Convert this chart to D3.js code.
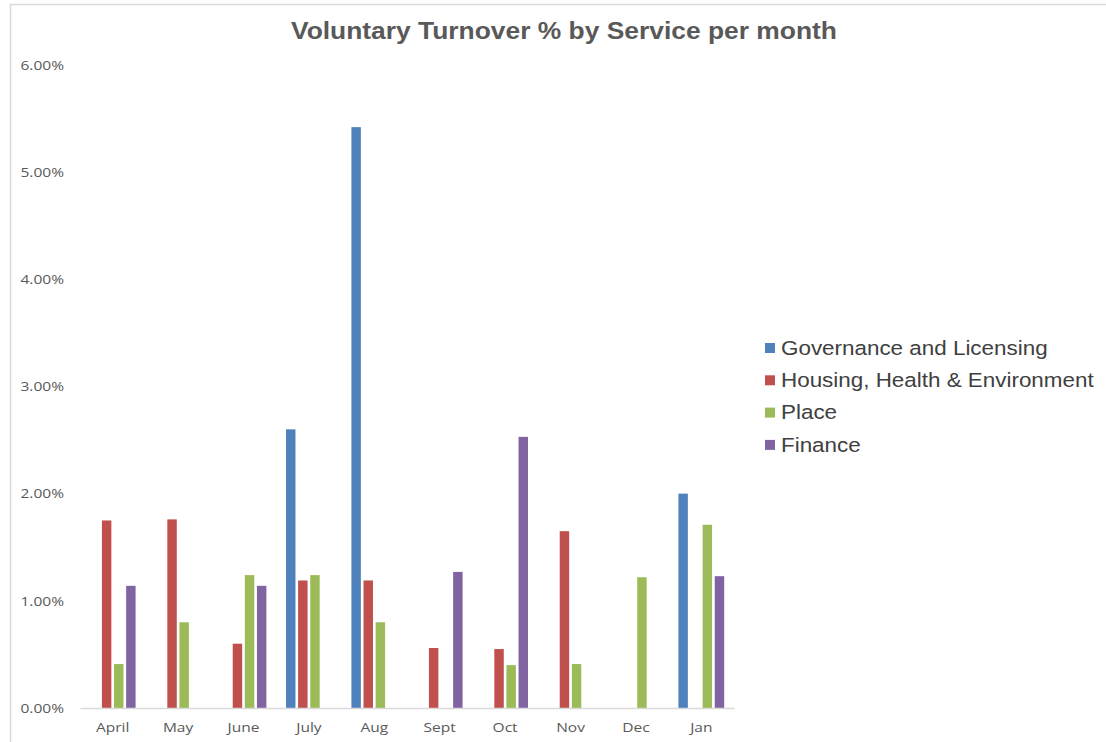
<!DOCTYPE html>
<html>
<head>
  <meta charset="utf-8">
  <title>Voluntary Turnover % by Service per month</title>
  <script src="https://d3js.org/d3.v7.min.js"></script>
  <style>
    body { margin: 0; background: #fff; }
    svg { display: block; }
  </style>
</head>
<body>
<div id="chart"></div>
<script>
  // chart data (percent values)
  var months = ["April", "May", "June", "July", "Aug", "Sept", "Oct", "Nov", "Dec", "Jan"];
  var services = ["Governance and Licensing", "Housing, Health & Environment", "Place", "Finance"];
  var governance = [0, 0, 0, 2.60, 5.42, 0, 0, 0, 0, 2.00];
  var housing    = [1.75, 1.76, 0.60, 1.19, 1.19, 0.56, 0.55, 1.65, 0, 0];
  var place      = [0.41, 0.80, 1.24, 1.24, 0.80, 0, 0.40, 0.41, 1.22, 1.71];
  var finance    = [1.14, 0, 1.14, 0, 0, 1.27, 2.53, 0, 0, 1.23];
  var yTicks = [0, 1, 2, 3, 4, 5, 6];

  var colors = ["#4f81bd", "#c0504d", "#9bbb59", "#8064a2"];
  var seriesValues = [governance, housing, place, finance];

  var width = 1106, height = 742;
  // the original picture is a bit stretched sideways, so text is too
  var stretch = 1.15;

  var svg = d3.select("#chart").append("svg")
    .attr("width", width)
    .attr("height", height);

  // outer frame (only top and left edges are visible in the picture)
  svg.append("path")
    .attr("d", "M10.5," + height + "V4.5H" + width)
    .attr("fill", "none")
    .attr("stroke", "#d9d9d9")
    .attr("stroke-width", 1.5);

  svg.append("text")
    .attr("x", 564)
    .attr("y", 39)
    .attr("text-anchor", "middle")
    .attr("font-family", "Liberation Sans, Arial, sans-serif")
    .attr("font-weight", "bold")
    .attr("font-size", 24)
    .attr("fill", "#595959")
    .attr("transform", "translate(564,0) scale(1.1,1) translate(-564,0)")
    .text("Voluntary Turnover % by Service per month");

  var x0 = d3.scaleBand()
    .domain(months)
    .range([80, 734])
    .paddingInner(0.3)
    .paddingOuter(0.15);

  var x1 = d3.scaleBand()
    .domain(services)
    .range([0, x0.bandwidth()])
    .paddingInner(0.22);

  var y = d3.scaleLinear()
    .domain([0, 6])
    .range([708, 65]);

  // y axis labels
  var yAxis = d3.axisLeft(y)
    .tickValues(yTicks)
    .tickSize(0)
    .tickPadding(0)
    .tickFormat(function (d) { return d.toFixed(2) + "%"; });

  var gy = svg.append("g")
    .attr("transform", "translate(64,0)")
    .call(yAxis);
  gy.select(".domain").remove();
  gy.selectAll("text")
    .attr("font-family", "Open Sans, sans-serif")
    .attr("font-size", 13.5)
    .attr("fill", "#595959")
    .attr("transform", "scale(" + stretch + ",1)");

  // bars
  var groups = svg.append("g").selectAll("g")
    .data(months)
    .enter().append("g")
    .attr("transform", function (d) { return "translate(" + x0(d) + ",0)"; });

  groups.selectAll("rect")
    .data(function (m, i) {
      return services.map(function (s, j) {
        return { service: s, value: seriesValues[j][i], color: colors[j] };
      }).filter(function (d) { return d.value > 0; });
    })
    .enter().append("rect")
    .attr("x", function (d) { return x1(d.service); })
    .attr("width", x1.bandwidth())
    .attr("y", function (d) { return y(d.value); })
    .attr("height", function (d) { return y(0) - y(d.value); })
    .attr("fill", function (d) { return d.color; });

  // x axis
  var xAxis = d3.axisBottom(x0).tickSize(0).tickPadding(14);
  var gx = svg.append("g")
    .attr("transform", "translate(0," + y(0) + ")")
    .call(xAxis);
  gx.select(".domain")
    .attr("stroke", "#d9d9d9")
    .attr("stroke-width", 1.5);
  gx.selectAll("text")
    .attr("font-family", "Open Sans, sans-serif")
    .attr("font-size", 13.5)
    .attr("fill", "#595959")
    .attr("transform", "scale(" + stretch + ",1)");

  // legend
  var legend = svg.append("g")
    .attr("transform", "translate(765,348)");
  var items = legend.selectAll("g")
    .data(services)
    .enter().append("g")
    .attr("transform", function (d, i) { return "translate(0," + (i * 32.3) + ")"; });
  items.append("rect")
    .attr("x", 0)
    .attr("y", -5)
    .attr("width", 10)
    .attr("height", 10)
    .attr("fill", function (d, i) { return colors[i]; });
  items.append("text")
    .attr("x", 16)
    .attr("y", 0)
    .attr("dy", "0.35em")
    .attr("font-family", "Liberation Sans, Arial, sans-serif")
    .attr("font-size", 19.5)
    .attr("fill", "#404040")
    .attr("transform", "translate(16,0) scale(" + stretch + ",1) translate(-16,0)")
    .text(function (d) { return d; });
</script>
</body>
</html>
